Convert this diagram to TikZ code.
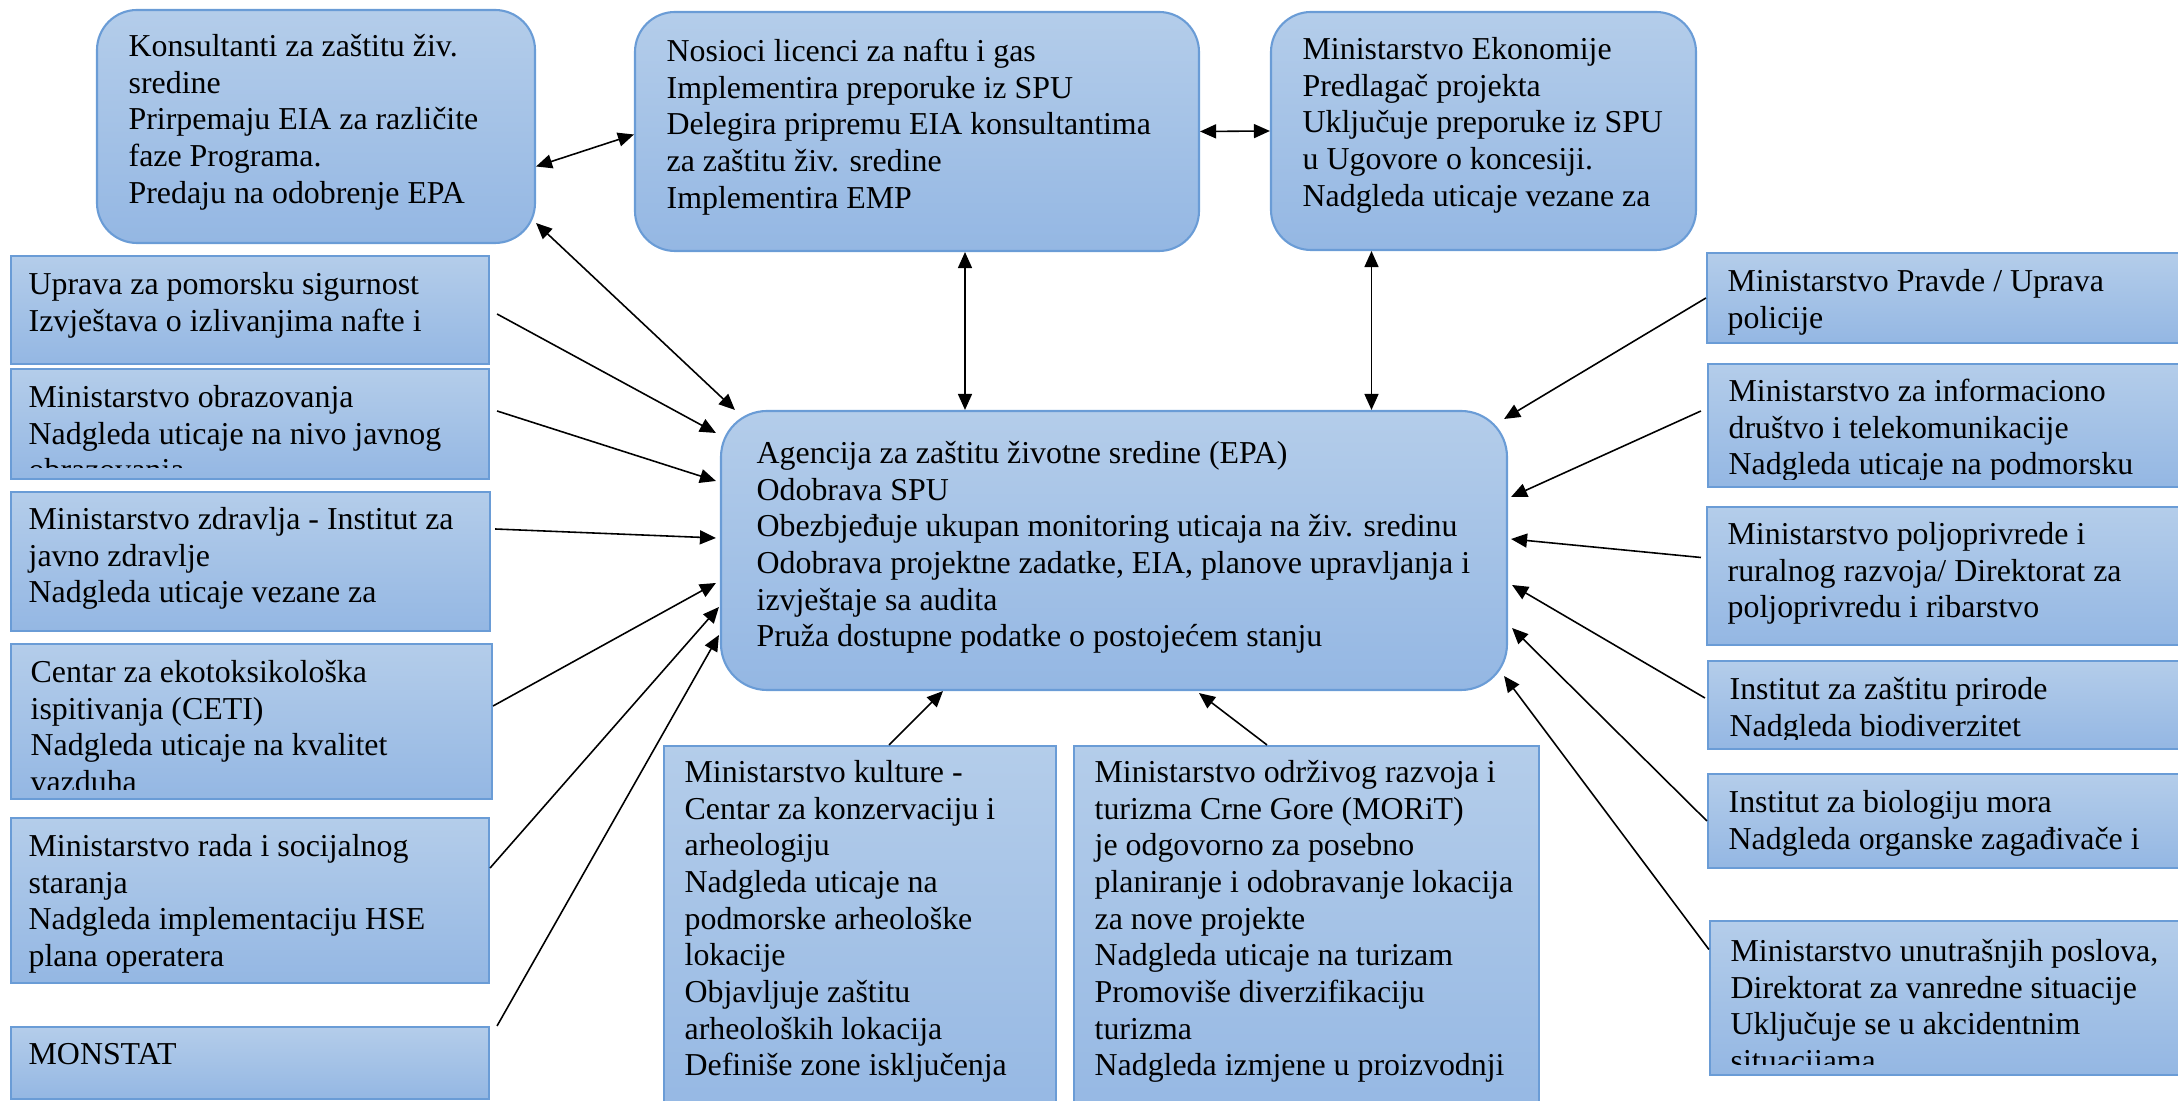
\documentclass[tikz,border=0pt]{standalone}
\usepackage{fontspec}
\setmainfont{Liberation Serif}
\usetikzlibrary{arrows.meta}

\definecolor{boxtop}{RGB}{180,205,234}
\definecolor{boxbot}{RGB}{148,183,227}
\definecolor{boxline}{RGB}{106,156,214}

\tikzset{
  agency/.style={draw=boxline, line width=0.6pt, top color=boxtop, bottom color=boxbot, inner sep=0pt},
  roundbox/.style={agency, rounded corners=0.4cm},
  lines/.style={font=\fontsize{9.07}{10.43}\selectfont, align=left, inner sep=0pt, anchor=north west},
  link/.style={line width=0.45pt, -{Triangle[length=0.16cm,width=0.14cm]}},
  dlink/.style={line width=0.45pt, {Triangle[length=0.16cm,width=0.14cm]}-{Triangle[length=0.16cm,width=0.14cm]}}
}

% text of a box: node, left inset, first baseline, bottom clip, lines
\newcommand{\boxlines}[5]{%
  \begin{scope}
    \clip (#1.north west) rectangle ([yshift=#4]#1.south east);
    \node[lines] at ([xshift=#2,yshift=0.3cm-#3]#1.north west) {\rule{0pt}{0.3cm}#5};
  \end{scope}}

\begin{document}
\begin{tikzpicture}
\useasboundingbox (0,0) rectangle (21.78,-11.01);

% top row
\node[roundbox, minimum width=4.38cm, minimum height=2.33cm] (kons) at (3.16,-1.265) {};
\node[roundbox, minimum width=5.64cm, minimum height=2.39cm] (nos) at (9.17,-1.315) {};
\node[roundbox, minimum width=4.25cm, minimum height=2.38cm] (ekon) at (14.835,-1.31) {};

% centre
\node[roundbox, rounded corners=0.46cm, minimum width=7.86cm, minimum height=2.79cm] (epa) at (11.14,-5.505) {};

% left column
\node[agency, minimum width=4.78cm, minimum height=1.08cm] (upr) at (2.50,-3.10) {};
\node[agency, minimum width=4.78cm, minimum height=1.10cm] (obr) at (2.50,-4.24) {};
\node[agency, minimum width=4.79cm, minimum height=1.39cm] (zdr) at (2.505,-5.615) {};
\node[agency, minimum width=4.81cm, minimum height=1.55cm] (ceti) at (2.515,-7.215) {};
\node[agency, minimum width=4.78cm, minimum height=1.65cm] (rad) at (2.50,-9.005) {};
\node[agency, minimum width=4.78cm, minimum height=0.72cm] (monst) at (2.50,-10.63) {};

% bottom row
\node[agency, minimum width=3.92cm, minimum height=3.84cm] (kult) at (8.60,-9.38) {};
\node[agency, minimum width=4.65cm, minimum height=3.84cm] (morit) at (13.065,-9.38) {};

% right column
\node[agency, minimum width=4.93cm, minimum height=0.90cm] (prav) at (19.535,-2.98) {};
\node[agency, minimum width=4.92cm, minimum height=1.23cm] (info) at (19.54,-4.255) {};
\node[agency, minimum width=4.93cm, minimum height=1.38cm] (polj) at (19.535,-5.76) {};
\node[agency, minimum width=4.92cm, minimum height=0.88cm] (prir) at (19.54,-7.05) {};
\node[agency, minimum width=4.92cm, minimum height=0.94cm] (biol) at (19.54,-8.21) {};
\node[agency, minimum width=4.90cm, minimum height=1.54cm] (unut) at (19.55,-9.98) {};

% texts
\boxlines{kons}{0.32cm}{0.47cm}{0.18cm}{Konsultanti za zaštitu živ.\\ sredine\\ Prirpemaju EIA za različite\\ faze Programa.\\ Predaju na odobrenje EPA}
\boxlines{nos}{0.32cm}{0.50cm}{0.18cm}{Nosioci licenci za naftu i gas\\ Implementira preporuke iz SPU\\ Delegira pripremu EIA konsultantima\\ za zaštitu živ. sredine\\ Implementira EMP}
\boxlines{ekon}{0.32cm}{0.48cm}{0.17cm}{Ministarstvo Ekonomije\\ Predlagač projekta\\ Uključuje preporuke iz SPU\\ u Ugovore o koncesiji.\\ Nadgleda uticaje vezane za}
\boxlines{epa}{0.36cm}{0.53cm}{0.21cm}{Agencija za zaštitu životne sredine (EPA)\\ Odobrava SPU\\ Obezbjeđuje ukupan monitoring uticaja na živ. sredinu\\ Odobrava projektne zadatke, EIA, planove upravljanja i\\ izvještaje sa audita\\ Pruža dostupne podatke o postojećem stanju}

\boxlines{upr}{0.18cm}{0.39cm}{0.10cm}{Uprava za pomorsku sigurnost\\ Izvještava o izlivanjima nafte i}
\boxlines{obr}{0.18cm}{0.39cm}{0.13cm}{Ministarstvo obrazovanja\\ Nadgleda uticaje na nivo javnog\\ obrazovanja}
\boxlines{zdr}{0.18cm}{0.38cm}{0.10cm}{Ministarstvo zdravlja - Institut za\\ javno zdravlje\\ Nadgleda uticaje vezane za}
\boxlines{ceti}{0.20cm}{0.39cm}{0.11cm}{Centar za ekotoksikološka\\ ispitivanja (CETI)\\ Nadgleda uticaje na kvalitet\\ vazduha}
\boxlines{rad}{0.18cm}{0.39cm}{0.10cm}{Ministarstvo rada i socijalnog\\ staranja\\ Nadgleda implementaciju HSE\\ plana operatera}
\boxlines{monst}{0.18cm}{0.38cm}{0.10cm}{MONSTAT}

\boxlines{kult}{0.21cm}{0.37cm}{0.10cm}{Ministarstvo kulture -\\ Centar za konzervaciju i\\ arheologiju\\ Nadgleda uticaje na\\ podmorske arheološke\\ lokacije\\ Objavljuje zaštitu\\ arheoloških lokacija\\ Definiše zone isključenja}
\boxlines{morit}{0.21cm}{0.37cm}{0.10cm}{Ministarstvo održivog razvoja i\\ turizma Crne Gore (MORiT)\\ je odgovorno za posebno\\ planiranje i odobravanje lokacija\\ za nove projekte\\ Nadgleda uticaje na turizam\\ Promoviše diverzifikaciju\\ turizma\\ Nadgleda izmjene u proizvodnji}

\boxlines{prav}{0.21cm}{0.39cm}{0.10cm}{Ministarstvo Pravde / Uprava\\ policije}
\boxlines{info}{0.21cm}{0.38cm}{0.09cm}{Ministarstvo za informaciono\\ društvo i telekomunikacije\\ Nadgleda uticaje na podmorsku}
\boxlines{polj}{0.21cm}{0.38cm}{0.10cm}{Ministarstvo poljoprivrede i\\ ruralnog razvoja/ Direktorat za\\ poljoprivredu i ribarstvo}
\boxlines{prir}{0.22cm}{0.39cm}{0.11cm}{Institut za zaštitu prirode\\ Nadgleda biodiverzitet}
\boxlines{biol}{0.21cm}{0.39cm}{0.10cm}{Institut za biologiju mora\\ Nadgleda organske zagađivače i}
\boxlines{unut}{0.21cm}{0.41cm}{0.12cm}{Ministarstvo unutrašnjih poslova,\\ Direktorat za vanredne situacije\\ Uključuje se u akcidentnim\\ situacijama}

% two-way links
\coordinate (nosx) at ([xshift=0.48cm]nos.south);
\coordinate (ekonx) at ([xshift=-1.12cm]ekon.south);
\draw[dlink] ([yshift=-0.4cm]kons.east) -- ([yshift=-0.03cm]nos.west);
\draw[dlink] (nos.east) -- (ekon.west);
\draw[dlink] ([yshift=0.21cm]kons.south east) -- ([xshift=0.15cm]epa.north west);
\draw[dlink] (nosx) -- (nosx |- epa.north);
\draw[dlink] (ekonx) -- (ekonx |- epa.north);

% left side
\draw[link] ([xshift=0.07cm,yshift=-0.04cm]upr.east) -- ([xshift=-0.04cm,yshift=1.175cm]epa.west);
\draw[link] ([xshift=0.07cm,yshift=0.13cm]obr.east) -- ([xshift=-0.04cm,yshift=0.695cm]epa.west);
\draw[link] ([xshift=0.04cm,yshift=0.325cm]zdr.east) -- ([xshift=-0.04cm,yshift=0.125cm]epa.west);
\draw[link] ([yshift=0.155cm]ceti.east) -- ([xshift=-0.04cm,yshift=-0.325cm]epa.west);
\draw[link] ([yshift=0.325cm]rad.east) -- ([xshift=-0.01cm,yshift=-0.565cm]epa.west);
\draw[link] ([xshift=0.07cm]monst.north east) -- ([xshift=-0.01cm,yshift=-0.845cm]epa.west);

% bottom
\draw[link] ([xshift=0.29cm]kult.north) -- ([xshift=-1.71cm]epa.south);
\draw[link] ([xshift=-0.395cm]morit.north) -- ([xshift=0.85cm,yshift=-0.02cm]epa.south);

% right side
\draw[link] (prav.west) -- ([xshift=-0.04cm,yshift=1.315cm]epa.east);
\draw[link] ([xshift=-0.06cm,yshift=0.145cm]info.west) -- ([xshift=0.03cm,yshift=0.535cm]epa.east);
\draw[link] ([xshift=-0.05cm,yshift=0.185cm]polj.west) -- ([xshift=0.03cm,yshift=0.115cm]epa.east);
\draw[link] ([xshift=-0.02cm,yshift=0.07cm]prir.west) -- ([xshift=0.04cm,yshift=-0.345cm]epa.east);
\draw[link] (biol.west) -- ([xshift=0.04cm,yshift=-0.775cm]epa.east);
\draw[link] ([yshift=0.485cm]unut.west) -- ([xshift=-0.04cm,yshift=-1.255cm]epa.east);
\end{tikzpicture}
\end{document}
